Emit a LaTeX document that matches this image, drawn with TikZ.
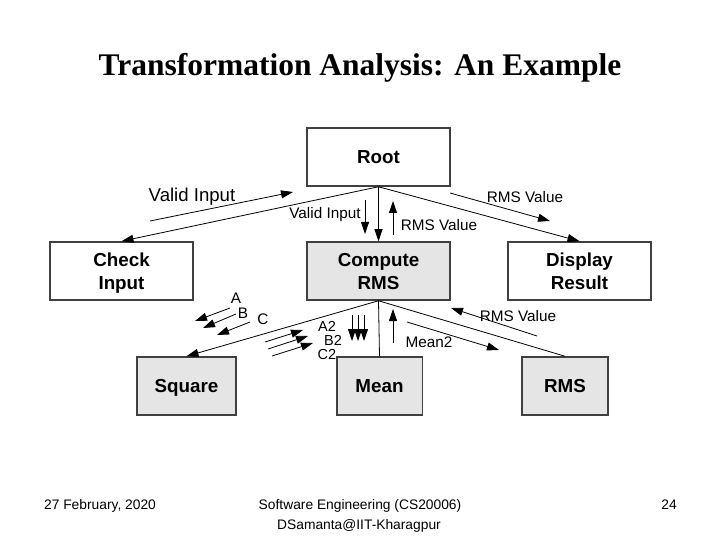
\documentclass[tikz,border=0pt]{standalone}
\usepackage{fontspec}
\setmainfont{Liberation Sans}
\newfontfamily\titlefont{Liberation Serif}
\usetikzlibrary{arrows.meta}
\newcommand\bxst{\rule[-4.9pt]{0pt}{23pt}}
\begin{document}
\begin{tikzpicture}[x=1pt,y=-1pt,
  box/.style={draw=black!75, line width=1.5pt, minimum height=58pt, align=center,
    font=\fontsize{18.8}{23}\selectfont\bfseries, inner sep=0pt},
  wbox/.style={box, fill=white},
  gbox/.style={box, fill=black!10},
  tip/.style={-{Triangle[length=12pt,width=8pt]}},
  link/.style={line width=0.8pt, draw=black},
  flow/.style={line width=0.8pt, draw=black, tip},
  lbl/.style={font=\fontsize{15.3}{17}\selectfont, inner sep=0pt},
  slbl/.style={font=\fontsize{14.5}{15}\selectfont, inner sep=0pt},
  foot/.style={font=\fontsize{13.8}{20}\selectfont, inner sep=0pt, anchor=base}]
\useasboundingbox (0,0) rectangle (720,540);

\node[font=\titlefont\fontsize{31.5}{36}\selectfont\bfseries] (title) at (360,68) {Transformation Analysis: An Example};

\node[wbox, minimum width=143pt] (root) at (378.5,157) {\bxst Root};
\node[wbox, minimum width=143pt] (check) at (121.5,271) {\bxst Check\\\bxst Input};
\node[gbox, minimum width=143pt] (comp) at (378.5,271) {\bxst Compute\\\bxst RMS};
\node[wbox, minimum width=143pt] (disp) at (579.5,271) {\bxst Display\\\bxst Result};
\node[gbox, minimum width=99pt] (square) at (186.5,386) {\bxst Square};
\node[gbox, minimum width=85.5pt] (mean) at (379.5,386) {\bxst Mean};
\node[gbox, minimum width=86pt] (rms) at (565,386) {\bxst RMS};

% tree connectors
\draw[link, tip] (root.south) -- (check.north);
\draw[link, tip] (root.south) -- (comp.north);
\draw[link, tip] (root.south) -- (disp.north);
\draw[link, tip] (comp.south) -- (square.north);
\draw[link] (comp.south) -- (mean.north);
\draw[link] (comp.south) -- (rms.north);

% data flow: Valid Input (top)
\coordinate (vi1) at (150,221); \coordinate (vi2) at (293,192);
\draw[flow] (vi1) -- (vi2);
\node[lbl, font=\fontsize{18.6}{20}\selectfont] (vil) at (192,197) {Valid Input};
% RMS Value (top right)
\coordinate (rv1) at (450,193); \coordinate (rv2) at (550,221);
\draw[flow] (rv1) -- (rv2);
\node[lbl] (rvl) at (525,197) {RMS Value};
% Valid Input down
\coordinate (vd1) at (365,200); \coordinate (vd2) at (365,234);
\draw[flow] (vd1) -- (vd2);
\node[lbl] (vdl) at (325,215) {Valid Input};
% RMS Value up
\coordinate (ru1) at (393,235); \coordinate (ru2) at (393,201);
\draw[flow] (ru1) -- (ru2);
\node[lbl] (rul) at (439,225) {RMS Value};

% A B C
\coordinate (a1) at (230,308); \coordinate (a2) at (195,321);
\coordinate (b1) at (236,314); \coordinate (b2) at (203,328);
\coordinate (c1) at (250,322); \coordinate (c2) at (217,335);
\draw[flow] (a1) -- (a2);
\draw[flow] (b1) -- (b2);
\draw[flow] (c1) -- (c2);
\node[lbl] (la) at (236,298) {A};
\node[lbl] (lb) at (243,313) {B};
\node[lbl] (lc) at (263,319) {C};

% A2 B2 C2 up-right
\coordinate (d1) at (265,342); \coordinate (d2) at (303,330);
\coordinate (e1) at (268,349); \coordinate (e2) at (308,336);
\coordinate (f1) at (272,356); \coordinate (f2) at (313,343);
\draw[flow] (d1) -- (d2);
\draw[flow] (e1) -- (e2);
\draw[flow] (f1) -- (f2);
\node[slbl] (la2) at (327,326.5) {A2};
\node[slbl] (lb2) at (333,340.5) {B2};
\node[slbl] (lc2) at (327,354.5) {C2};

% three down arrows to Mean
\coordinate (g1) at (352,315); \coordinate (g2) at (352,341);
\coordinate (h1) at (358,315); \coordinate (h2) at (358,341);
\coordinate (k1) at (364,315); \coordinate (k2) at (364,341);
\draw[flow] (g1) -- (g2);
\draw[flow] (h1) -- (h2);
\draw[flow] (k1) -- (k2);

% Mean2 up
\coordinate (m1) at (393,343); \coordinate (m2) at (393,309);
\draw[flow] (m1) -- (m2);
\node[lbl] (lm) at (429,342) {Mean2};
% Mean2 to RMS (down-right)
\coordinate (n1) at (407,322); \coordinate (n2) at (499,350);
\draw[flow] (n1) -- (n2);
% RMS Value up-left
\coordinate (p1) at (537,336); \coordinate (p2) at (451,308);
\draw[flow] (p1) -- (p2);
\node[lbl] (lp) at (518,316) {RMS Value};

% footer
\node[foot] (date) at (100,509) {27 February, 2020};
\node[foot] (course) at (360,509) {Software Engineering (CS20006)};
\node[foot] (author) at (359,529) {DSamanta@IIT-Kharagpur};
\node[foot] (page) at (669,509) {24};
\end{tikzpicture}
\end{document}
